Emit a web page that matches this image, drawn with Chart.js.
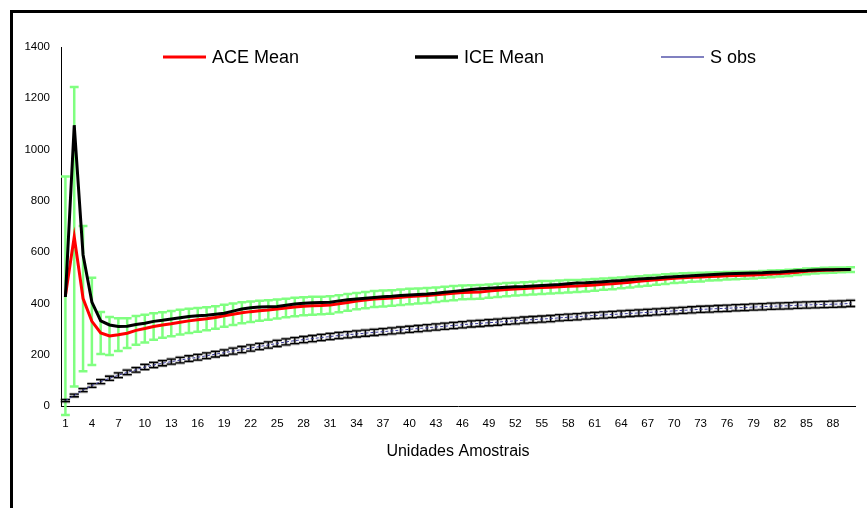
<!DOCTYPE html>
<html><head><meta charset="utf-8">
<script src="https://cdn.jsdelivr.net/npm/chart.js@4.4.0/dist/chart.umd.min.js"></script>
<style>
html,body{margin:0;padding:0;background:#fff;width:867px;height:508px;overflow:hidden}
#frame{position:absolute;left:10px;top:10px;width:900px;height:600px;border-left:3px solid #000;border-top:3px solid #000;box-sizing:border-box}
#wrap{position:absolute;left:0;top:0;width:867px;height:508px}
</style></head><body>
<div id="frame"></div>
<div id="wrap"><canvas id="c" width="867" height="508"></canvas></div>
<script>
const categories = ["1","2","3","4","5","6","7","8","9","10","11","12","13","14","15","16","17","18","19","20","21","22","23","24","25","26","27","28","29","30","31","32","33","34","35","36","37","38","39","40","41","42","43","44","45","46","47","48","49","50","51","52","53","54","55","56","57","58","59","60","61","62","63","64","65","66","67","68","69","70","71","72","73","74","75","76","77","78","79","80","81","82","83","84","85","86","87","88","89","90"];

const aceMean = [430,660,419,330,285,273,278,284,295,302,310,316,321,327,332,336,340,345,352,358,364,368,371,374,378,382,386,389,391,392,394,399,404,409,413,417,419,421,424,427,429,431,434,437,440,443,444,445,448,451,454,456,458,460,462,463,465,467,468,470,472,475,477,480,483,486,489,492,495,498,500,502,503,505,506,508,509,510,511,513,515,517,519,522,525,527,529,530,531,532];

const aceSD = [465,584,283,170,82,74,64,58,56,54,52,50,49,48,47,46,45,44,43,42,41,40,39,38,37,36,36,35,35,34,34,33,33,32,32,31,31,30,30,30,29,29,28,28,28,27,27,27,26,26,26,25,25,25,25,24,24,24,23,23,23,22,22,21,21,20,20,19,19,18,18,17,17,16,16,15,15,14,14,13,13,12,12,11,11,10,10,10,9,9];

const iceMean = [425,1095,590,405,332,316,310,311,318,323,330,334,339,344,349,352,354,358,362,370,378,383,386,387,388,393,398,401,403,404,405,410,414,417,420,423,426,428,431,433,435,437,440,444,447,450,454,457,459,461,463,465,466,468,470,472,474,477,480,481,483,485,487,489,492,495,497,499,502,504,506,508,510,512,514,516,517,518,519,520,522,523,525,527,528,530,531,531,532,532];

const sObs = [21,41,62,80,95,108,120,131,141,152,160,167,173,179,185,190,196,202,208,214,220,226,232,238,244,250,255,259,263,267,271,275,278,281,284,287,290,293,296,299,302,305,308,311,314,317,320,322,325,327,330,332,335,337,339,341,344,346,348,351,353,355,357,359,361,363,365,367,369,371,373,375,377,378,380,381,383,384,386,387,389,390,391,393,394,395,396,397,398,400];

const sObsSD = [4,5,6,7,8,8,9,9,9,10,10,10,10,11,11,11,11,11,11,12,12,12,12,12,12,12,12,12,12,12,12,12,12,12,12,12,12,12,12,12,12,12,12,12,12,12,12,12,12,12,12,12,12,12,12,12,12,12,12,12,12,12,12,12,12,12,12,12,12,12,12,12,12,12,12,12,12,12,12,12,12,12,12,12,12,12,12,12,12,12];

const yTicks = [0,200,400,600,800,1000,1200,1400];

const FONT = "'Liberation Sans', Arial, sans-serif";

const errorBars = {
  id: 'errorBars',
  beforeDatasetsDraw(chart, args, opts) {
    const ctx = chart.ctx, xs = chart.scales.x, ys = chart.scales.y;
    const half = (xs.getPixelForValue(1) - xs.getPixelForValue(0)) / 2;
    opts.sets.forEach(s => {
      const means = chart.data.datasets[s.dataset].data;
      ctx.save();
      s.strokes.forEach(st => {
        ctx.strokeStyle = st.color; ctx.lineWidth = st.width;
        ctx.beginPath();
        means.forEach((m, i) => {
          const px = xs.getPixelForValue(i);
          const hi = ys.getPixelForValue(m + s.err[i]);
          const lo = ys.getPixelForValue(m - s.err[i]);
          const w = half * s.capFrac;
          ctx.moveTo(px, hi); ctx.lineTo(px, lo);
          ctx.moveTo(px - w, hi); ctx.lineTo(px + w, hi);
          ctx.moveTo(px - w, lo); ctx.lineTo(px + w, lo);
        });
        ctx.stroke();
      });
      ctx.restore();
    });
  }
};

const lineLegend = {
  id: 'lineLegend',
  afterDraw(chart, args, opts) {
    const ctx = chart.ctx;
    ctx.save();
    ctx.font = opts.font;
    ctx.textBaseline = 'middle';
    ctx.textAlign = 'left';
    chart.data.datasets.forEach((ds, i) => {
      const x0 = opts.starts[i];
      ctx.strokeStyle = opts.colors[i];
      ctx.lineWidth = opts.widths[i];
      ctx.setLineDash([]);
      ctx.beginPath(); ctx.moveTo(x0, opts.y); ctx.lineTo(x0 + opts.lineLen, opts.y); ctx.stroke();
      ctx.fillStyle = '#000';
      ctx.fillText(ds.label, x0 + opts.lineLen + opts.gap, opts.y + 1);
    });
    ctx.restore();
  }
};

new Chart(document.getElementById('c'), {
  type: 'line',
  data: {
    labels: categories,
    datasets: [
      { label: 'ACE Mean', data: aceMean, borderColor: '#ff0000', borderWidth: 3, pointRadius: 0, tension: 0, order: 1 },
      { label: 'ICE Mean', data: iceMean, borderColor: '#000000', borderWidth: 3, pointRadius: 0, tension: 0, order: 0 },
      { label: 'S obs', data: sObs, borderColor: '#3a3a9a', borderWidth: 1, borderDash: [3, 2], pointRadius: 0, tension: 0, order: 2 }
    ]
  },
  options: {
    responsive: false,
    animation: false,
    devicePixelRatio: 1,
    layout: { padding: { left: 0, right: 12, top: 47, bottom: 0 } },
    plugins: {
      legend: { display: false },
      tooltip: { enabled: false },
      errorBars: {
        sets: [
          { dataset: 0, err: aceSD, capFrac: 1, strokes: [{ color: '#80ff80', width: 2.5 }] },
          { dataset: 2, err: sObsSD, capFrac: 1.05, strokes: [{ color: 'rgba(0,0,0,0.35)', width: 3 }, { color: '#000000', width: 1.3 }] }
        ]
      },
      lineLegend: {
        font: "18px " + FONT,
        y: 57,
        starts: [163, 415, 661],
        lineLen: 43,
        gap: 6,
        colors: ['#ff0000', '#000000', '#8080c0'],
        widths: [3, 3.5, 2]
      }
    },
    scales: {
      x: {
        type: 'category',
        offset: true,
        grid: { display: false, drawTicks: false },
        border: { display: true, color: '#000', width: 1 },
        ticks: {
          autoSkip: false, maxRotation: 0, minRotation: 0, padding: 11,
          color: '#000', font: { family: FONT, size: 11.5 },
          callback: function(v, i) { return i % 3 === 0 ? categories[i] : ''; }
        },
        title: { display: true, text: 'Unidades Amostrais', color: '#000', font: { family: FONT, size: 16 }, padding: { top: 0, bottom: 47 } },
        afterFit(scale) { scale.height = 102; }
      },
      y: {
        min: 0, max: 1400,
        afterBuildTicks(scale) { scale.ticks = yTicks.map(v => ({ value: v })); },
        grid: { display: false, drawTicks: false },
        border: { display: true, color: '#000', width: 1 },
        ticks: { padding: 11, color: '#000', font: { family: FONT, size: 11.5 }, callback: function(v) { return String(v); } },
        afterFit(scale) { scale.width = 61; }
      }
    }
  },
  plugins: [errorBars, lineLegend]
});
</script>
</body></html>
